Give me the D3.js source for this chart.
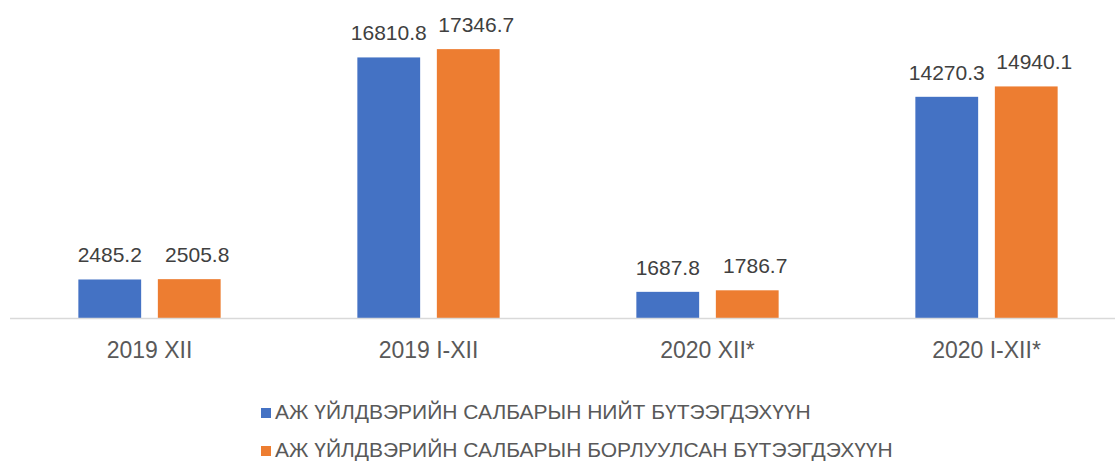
<!DOCTYPE html>
<html>
  <head>
    <meta http-equiv="Content-Type" content="text/html;charset=utf-8"/>
    <title>Industry output</title>
    <script src="https://cdn.jsdelivr.net/npm/d3@7"></script>
    <style>
      body { margin: 0; background: #ffffff; }
      .valueText { fill: #404040; font-size: 21px; font-family: 'Liberation Sans', Arial, sans-serif; }
      .catText { fill: #595959; font-size: 23px; font-family: 'Liberation Sans', Arial, sans-serif; }
      .legendText { fill: #595959; font-size: 21px; font-family: 'Liberation Sans', Arial, sans-serif; }
    </style>
  </head>
  <body>
    <div id="chart"></div>
    <script>
      var categories = ["2019 XII", "2019 I-XII", "2020 XII*", "2020 I-XII*"];
      var seriesNames = ["АЖ ҮЙЛДВЭРИЙН САЛБАРЫН НИЙТ БҮТЭЭГДЭХҮҮН",
                         "АЖ ҮЙЛДВЭРИЙН САЛБАРЫН БОРЛУУЛСАН БҮТЭЭГДЭХҮҮН"];
      var totalOutput = [2485.2, 16810.8, 1687.8, 14270.3];
      var soldOutput = [2505.8, 17346.7, 1786.7, 14940.1];
      var colours = ["#4472C4", "#ED7D31"];

      var W = 1115, H = 461;
      var baseY = 318;

      var svg = d3.select("#chart").append("svg")
          .attr("width", W)
          .attr("height", H);

      var x0 = d3.scaleBand()
          .domain(categories)
          .range([10, 1126])
          .paddingInner(0.49)
          .paddingOuter(0.245);

      var x1 = d3.scaleBand()
          .domain([0, 1])
          .range([0, x0.bandwidth()])
          .paddingInner(0.21);

      var y = d3.scaleLinear()
          .domain([0, 20000])
          .range([baseY, 8]);

      var rows = categories.map(function(c, i) {
        return {cat: c, values: [totalOutput[i], soldOutput[i]]};
      });

      var groups = svg.selectAll("g.group")
          .data(rows)
        .enter().append("g")
          .attr("class", "group")
          .attr("transform", function(d) { return "translate(" + x0(d.cat) + ",0)"; });

      groups.selectAll("rect")
          .data(function(d) { return d.values; })
        .enter().append("rect")
          .attr("x", function(d, j) { return x1(j); })
          .attr("y", function(d) { return y(d); })
          .attr("width", x1.bandwidth())
          .attr("height", function(d) { return baseY - y(d); })
          .attr("fill", function(d, j) { return colours[j]; });

      groups.selectAll("text.valueText")
          .data(function(d) { return d.values; })
        .enter().append("text")
          .attr("class", "valueText")
          .attr("x", function(d, j) { return x1(j) + x1.bandwidth() / 2 + (j ? 8 : 0); })
          .attr("y", function(d) { return y(d) - 17; })
          .attr("text-anchor", "middle")
          .text(function(d) { return d3.format(".1f")(d); });

      // axis line
      svg.append("line")
          .attr("x1", 10).attr("x2", W)
          .attr("y1", baseY + 0.5).attr("y2", baseY + 0.5)
          .attr("stroke", "#d9d9d9")
          .attr("stroke-width", 1.5);

      svg.selectAll("text.catText")
          .data(categories)
        .enter().append("text")
          .attr("class", "catText")
          .attr("x", function(d) { return x0(d) + x0.bandwidth() / 2; })
          .attr("y", 358)
          .attr("text-anchor", "middle")
          .text(function(d) { return d; });

      // legend
      var legend = svg.selectAll("g.legend")
          .data(seriesNames)
        .enter().append("g")
          .attr("class", "legend")
          .attr("transform", function(d, i) { return "translate(261," + (408 + i * 38) + ")"; });

      legend.append("rect")
          .attr("width", 10)
          .attr("height", 10)
          .attr("fill", function(d, i) { return colours[i]; });

      legend.append("text")
          .attr("class", "legendText")
          .attr("x", 14)
          .attr("y", 11)
          .text(function(d) { return d; });
    </script>
  </body>
</html>
